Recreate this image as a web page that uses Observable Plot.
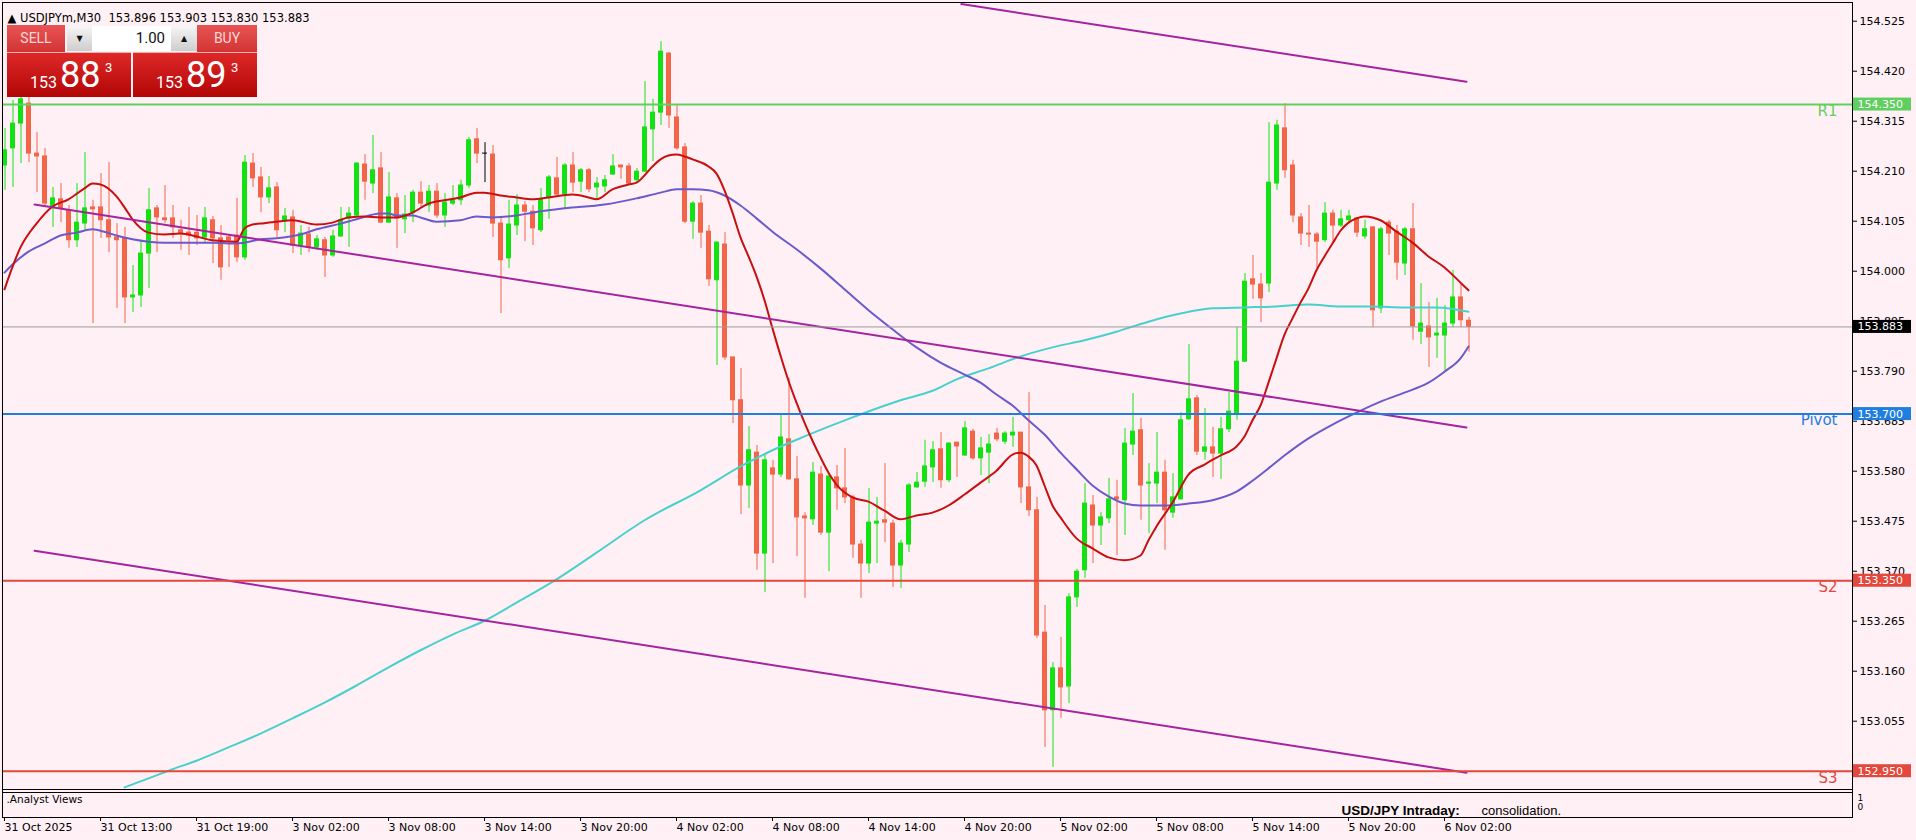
<!DOCTYPE html>
<html><head><meta charset="utf-8">
<script src="https://cdn.jsdelivr.net/npm/d3@7"></script>
<script src="https://cdn.jsdelivr.net/npm/@observablehq/plot@0.6"></script>
<style>
html,body{margin:0;padding:0;background:#fff0f5;}
#wrap{position:relative;width:1916px;height:840px;overflow:hidden;}
#chart svg{display:block;}
.tp div{position:absolute;box-sizing:border-box;}
.b{top:25px;height:27px;width:58px;background:linear-gradient(#e85454,#d23434);color:#ffd6d6;font:14px Roboto,"DejaVu Sans",sans-serif;text-align:center;line-height:27px;}
.sell{left:7px;}
.buy{left:197px;width:60px;}
.spin{top:26px;height:25px;width:25px;background:linear-gradient(#f6f6f6,#cdcdcd);font:8px "DejaVu Sans",sans-serif;text-align:center;line-height:25px;color:#111;}
.dn{left:67px;}
.up{left:171px;width:26px;}
.lot{left:92px;top:26px;width:79px;height:25px;background:#fff;text-align:right;padding-right:6px;font:15px Roboto,"Liberation Sans",sans-serif;line-height:25px;color:#111;}
.px{top:52px;height:45px;width:124px;background:linear-gradient(#de2828,#b20606);color:#fff;border-top:1px solid #f3b0b0;}
.sellpx{left:7px;}
.buypx{left:133px;}
.px span{position:absolute;line-height:1;font-family:Roboto,"Liberation Sans",sans-serif;white-space:nowrap;}
.px .s{left:23px;top:22px;font-size:16px;}
.px .g{left:53px;top:4px;font-size:36px;}
.px .u{left:98px;top:8px;font-size:13px;}
</style></head>
<body>
<div id="wrap">
<div id="chart"></div>
<div class="tp">
  <div class="b sell">SELL</div>
  <div class="spin dn">▼</div>
  <div class="lot">1.00</div>
  <div class="spin up">▲</div>
  <div class="b buy">BUY</div>
  <div class="px sellpx"><span class="s">153</span><span class="g">88</span><span class="u">3</span></div>
  <div class="px buypx"><span class="s">153</span><span class="g">89</span><span class="u">3</span></div>
</div>
</div>
<script>
// ---- candle data (USDJPYm, M30), bar 0 = 31 Oct 2025 07:00 ----
const opens = [154.222,154.258,154.310,154.352,154.247,154.241,154.134,154.151,154.128,154.065,154.100,154.134,154.134,154.107,154.071,154.069,153.945,153.949,154.037,154.132,154.111,154.111,154.086,154.081,154.081,154.071,154.107,154.069,154.071,154.075,154.029,154.226,154.197,154.155,154.176,154.104,154.113,154.054,154.077,154.050,154.065,154.033,154.073,154.111,154.117,154.224,154.184,154.216,154.102,154.153,154.109,154.123,154.165,154.138,154.167,154.117,154.142,154.149,154.180,154.277,154.247,154.245,154.100,154.027,154.096,154.138,154.125,154.086,154.155,154.195,154.161,154.222,154.188,154.212,154.176,154.178,154.203,154.222,154.220,154.191,154.209,154.298,154.333,154.457,154.323,154.260,154.104,154.142,154.083,153.981,154.056,153.819,153.729,153.550,153.619,153.407,153.586,153.573,153.647,153.563,153.485,153.479,153.573,153.451,153.567,153.544,153.525,153.426,153.386,153.470,153.477,153.470,153.382,153.426,153.546,153.558,153.588,153.626,153.561,153.640,153.613,153.663,153.607,153.619,153.659,153.642,153.655,153.661,153.546,153.498,153.241,153.078,153.166,153.128,153.315,153.372,153.508,153.466,153.481,153.525,153.519,153.636,153.666,153.554,153.554,153.577,153.493,153.521,153.689,153.733,153.621,153.630,153.617,153.668,153.701,153.810,153.983,153.972,153.974,154.184,154.300,154.222,154.113,154.079,154.077,154.065,154.121,154.096,154.107,154.111,154.073,154.092,153.922,154.102,154.083,154.016,154.088,153.873,153.884,153.865,153.865,153.890,153.945,153.896];
const highs = [154.300,154.359,154.373,154.369,154.291,154.258,154.176,154.184,154.138,154.184,154.249,154.149,154.205,154.228,154.100,154.092,154.012,154.065,154.174,154.138,154.180,154.138,154.107,154.134,154.117,154.134,154.115,154.096,154.075,154.153,154.243,154.247,154.218,154.199,154.186,154.132,154.128,154.096,154.092,154.075,154.071,154.086,154.134,154.134,154.228,154.245,154.285,154.249,154.207,154.163,154.159,154.170,154.188,154.180,154.184,154.163,154.180,154.191,154.281,154.300,154.270,154.264,154.113,154.149,154.161,154.146,154.138,154.174,154.201,154.239,154.226,154.249,154.216,154.216,154.197,154.201,154.245,154.222,154.226,154.216,154.398,154.361,154.482,154.459,154.348,154.268,154.146,154.159,154.096,154.062,154.081,153.819,153.796,153.674,153.634,153.613,153.603,153.697,153.775,153.611,153.493,153.598,153.590,153.575,153.592,153.628,153.529,153.435,153.544,153.525,153.596,153.477,153.435,153.554,153.577,153.645,153.642,153.661,153.640,153.640,153.684,153.668,153.651,153.657,153.670,153.663,153.693,153.661,153.745,153.525,153.298,153.178,153.231,153.323,153.374,153.554,153.529,153.493,153.565,153.561,153.670,153.743,153.691,153.596,153.661,153.603,153.575,153.703,153.846,153.739,153.712,153.672,153.693,153.745,153.882,153.995,154.033,153.995,154.312,154.317,154.352,154.233,154.121,154.138,154.081,154.144,154.128,154.128,154.128,154.113,154.107,154.094,154.092,154.107,154.096,154.092,154.142,153.974,153.934,153.943,153.928,154.002,153.974,153.903];
const lows = [154.170,154.176,154.226,154.228,154.165,154.134,154.092,154.102,154.048,154.050,154.086,153.890,154.069,154.039,153.922,153.890,153.913,153.924,153.964,154.039,154.100,154.069,154.044,154.033,154.054,154.060,154.016,153.981,154.008,154.018,154.023,154.176,154.123,154.142,154.071,154.081,154.037,154.033,154.039,154.044,153.987,154.029,154.071,154.050,154.113,154.149,154.163,154.100,154.100,154.048,154.079,154.102,154.134,154.123,154.111,154.092,154.138,154.138,154.174,154.226,154.186,154.071,153.911,154.006,154.075,154.062,154.054,154.081,154.109,154.159,154.132,154.165,154.165,154.165,154.151,154.165,154.201,154.193,154.180,154.184,154.207,154.230,154.306,154.300,154.254,154.100,154.067,154.048,153.968,153.802,153.813,153.680,153.489,153.502,153.372,153.325,153.386,153.567,153.561,153.401,153.313,153.466,153.445,153.369,153.498,153.512,153.397,153.313,153.365,153.386,153.430,153.336,153.334,153.409,153.544,153.546,153.556,153.544,153.556,153.567,153.611,153.603,153.571,153.554,153.642,153.636,153.630,153.512,153.485,153.229,153.000,152.958,153.061,153.092,153.294,153.355,153.386,153.424,153.470,153.403,153.445,153.613,153.477,153.449,153.512,153.414,153.481,153.519,153.687,153.613,153.603,153.567,153.563,153.661,153.687,153.808,153.941,153.892,153.955,154.170,154.195,154.102,154.054,154.050,154.006,154.060,154.060,154.092,154.100,154.071,154.067,153.882,153.911,154.033,153.981,153.991,153.855,153.846,153.798,153.817,153.787,153.882,153.882,153.830];
const closes = [154.254,154.310,154.361,154.247,154.241,154.142,154.153,154.132,154.065,154.102,154.132,154.130,154.107,154.071,154.065,153.945,153.949,154.037,154.128,154.113,154.107,154.092,154.079,154.075,154.069,154.111,154.069,154.008,154.065,154.029,154.228,154.195,154.155,154.174,154.086,154.115,154.054,154.079,154.050,154.067,154.033,154.073,154.107,154.121,154.226,154.188,154.212,154.102,154.155,154.111,154.119,154.165,154.142,154.167,154.117,154.144,154.149,154.180,154.275,154.247,154.247,154.100,154.023,154.098,154.138,154.125,154.090,154.151,154.197,154.161,154.222,154.186,154.212,154.172,154.184,154.191,154.220,154.218,154.184,154.209,154.302,154.333,154.461,154.327,154.258,154.104,154.142,154.081,153.983,154.060,153.819,153.729,153.550,153.624,153.407,153.603,153.573,153.651,153.563,153.483,153.481,153.577,153.451,153.569,153.544,153.525,153.426,153.386,153.472,153.474,153.472,153.382,153.428,153.550,153.556,153.590,153.624,153.561,153.638,153.632,153.670,153.607,153.628,153.636,153.647,153.659,153.661,153.546,153.498,153.235,153.078,153.166,153.126,153.315,153.369,153.512,153.466,153.483,153.521,153.521,153.638,153.663,153.550,153.556,153.577,153.498,153.525,153.687,153.731,153.621,153.630,153.617,153.668,153.705,153.810,153.978,153.972,153.943,154.186,154.306,154.212,154.117,154.079,154.077,154.062,154.121,154.096,154.109,154.115,154.081,154.088,153.918,154.088,154.079,154.018,154.088,153.884,153.890,153.861,153.869,153.890,153.945,153.897,153.883];

// ---- moving averages (bar index, price) ----
const redMaBars = [0,2,4,6,8,10,11,12,14,15,16,18,20,22,24,26,29,30,31,32,34,36,39,41,43,45,47,49,51,53,55,57,59,60,62,64,66,68,71,73,74,76,78,79,81,82,83,84,85,86,88,89,90,91,92,93,94,95,96,97,98,99,100,101,102,103,104,106,108,110,112,114,116,118,120,122,124,126,127,128,129,130,131,132,134,136,138,140,142,143,144,146,148,150,152,154,155,156,157,158,159,160,161,162,163,164,165,166,167,168,169,170,171,172,174,176,178,180,182,183];
const redMaVals = [153.962,154.050,154.100,154.136,154.151,154.174,154.184,154.182,154.157,154.134,154.109,154.081,154.077,154.079,154.073,154.065,154.062,154.090,154.098,154.100,154.104,154.107,154.098,154.102,154.113,154.115,154.113,154.113,154.123,154.142,154.149,154.155,154.165,154.165,154.159,154.155,154.151,154.155,154.161,154.155,154.151,154.172,154.182,154.186,154.220,154.235,154.243,154.245,154.241,154.235,154.220,154.205,154.170,154.123,154.071,154.031,153.989,153.939,153.880,153.823,153.770,153.724,153.682,153.644,153.609,153.577,153.552,153.525,153.516,153.497,153.479,153.487,153.493,153.508,153.531,153.556,153.581,153.615,153.619,153.611,153.592,153.550,153.508,153.483,153.439,153.418,153.399,153.393,153.403,153.435,153.464,153.514,153.573,153.594,153.613,153.632,153.653,153.687,153.718,153.766,153.817,153.867,153.901,153.934,153.964,154.002,154.031,154.058,154.085,154.102,154.111,154.115,154.113,154.107,154.083,154.060,154.031,154.008,153.976,153.960];
const slateMaBars = [0,1,3,5,7,9,11,12,14,16,18,20,23,26,28,30,32,34,37,39,42,44,47,48,49,51,52,54,57,59,61,64,66,70,75,79,82,84,86,88,90,92,94,96,99,102,105,108,111,114,117,120,122,124,126,128,130,132,134,136,138,140,142,145,148,151,154,156,158,160,163,166,169,172,175,178,180,182,183];
const slateMaVals = [153.997,154.014,154.041,154.058,154.075,154.081,154.088,154.085,154.075,154.067,154.062,154.060,154.060,154.060,154.058,154.060,154.067,154.069,154.077,154.088,154.100,154.109,154.121,154.121,154.117,154.117,154.113,154.104,154.107,154.115,154.113,154.117,154.123,154.132,154.140,154.153,154.165,154.172,154.172,154.170,154.159,154.138,154.111,154.083,154.046,154.006,153.962,153.918,153.878,153.840,153.808,153.783,153.766,153.741,153.718,153.687,153.657,153.619,153.584,153.550,153.527,153.512,153.508,153.508,153.512,153.519,153.537,153.560,153.586,153.613,153.649,153.678,153.703,153.726,153.745,153.766,153.789,153.817,153.842];
const tealMaBars = [15,18,21,24,28,32,36,40,44,48,52,56,60,64,69,74,80,87,92,96,100,106,112,116,119,123,127,131,135,139,143,147,151,155,159,163,167,171,175,179,183];
const tealMaVals = [152.916,152.935,152.954,152.972,153.000,153.029,153.061,153.094,153.130,153.168,153.204,153.237,153.266,153.304,153.353,153.409,153.477,153.540,153.590,153.624,153.653,153.693,153.729,153.749,153.773,153.796,153.821,153.840,153.855,153.873,153.894,153.911,153.922,153.924,153.926,153.930,153.926,153.926,153.924,153.924,153.915];

// ---- channel trend lines (bar index, price at the two ends) ----
const upperTrendBars = [119.6, 182.75];
const upperTrendPrices = [154.561, 154.398];
const middleTrendBars = [3.75, 182.75];
const middleTrendPrices = [154.140, 153.672];
const lowerTrendBars = [3.75, 182.75];
const lowerTrendPrices = [153.413, 152.947];

// ---- horizontal levels ----
const levelNames = ["R1", "Pivot", "S2", "S3"];
const levelValues = [154.350, 153.700, 153.350, 152.950];
const levelColors = ["#5fcf5f", "#1f7fe0", "#e4473c", "#e4473c"];
const bidPrice = 153.883;

// ---- axes ----
const yTicks = [154.525,154.420,154.315,154.210,154.105,154.000,153.895,153.790,153.685,153.580,153.475,153.370,153.265,153.160,153.055];
const tickBars = [0,12,24,36,48,60,72,84,96,108,120,132,144,156,168,180];
const tickLabels = ["31 Oct 2025","31 Oct 13:00","31 Oct 19:00","3 Nov 02:00","3 Nov 08:00","3 Nov 14:00","3 Nov 20:00","4 Nov 02:00","4 Nov 08:00","4 Nov 14:00","4 Nov 20:00","5 Nov 02:00","5 Nov 08:00","5 Nov 14:00","5 Nov 20:00","6 Nov 02:00"];
const headerText = "▲ USDJPYm,M30  153.896 153.903 153.830 153.883";

// ---- build ----
const BG = "#fff0f5", GREEN = "#12e212", RED = "#f26549";
const bars = opens.map((o, i) => ({i, o, h: highs[i], l: lows[i], c: closes[i]}));
const col = d => d.c > d.o ? GREEN : d.c < d.o ? RED : "#000000";
const pts = (xs, ys) => xs.map((x, k) => ({x, y: ys[k]}));
const levels = levelNames.map((name, k) => ({name, v: levelValues[k], color: levelColors[k]}));
const boxes = [...levels.map(d => ({v: d.v, color: d.color})), {v: bidPrice, color: "#000000"}];
const trends = [
  ...pts(upperTrendBars, upperTrendPrices).map(p => ({...p, z: "u"})),
  ...pts(middleTrendBars, middleTrendPrices).map(p => ({...p, z: "m"})),
  ...pts(lowerTrendBars, lowerTrendPrices).map(p => ({...p, z: "l"}))
];
const yDomain = [152.9116, 154.5643];

const chart = Plot.plot({
  width: 1916, height: 840,
  marginTop: 2, marginLeft: 2, marginRight: 64, marginBottom: 23,
  style: {background: BG, fontFamily: "'DejaVu Sans', sans-serif", fontSize: "11px", color: "#000"},
  x: {domain: [-0.25, 231]},
  y: {domain: yDomain, range: [789, 2]},
  marks: [
    // candles
    Plot.ruleX(bars, {x: "i", y1: "l", y2: "h", stroke: col, strokeWidth: 1, dx: 0.5}),
    Plot.rect(bars, {x1: "i", x2: "i", y1: "o", y2: "c", fill: col, insetLeft: -2, insetRight: -3, insetTop: -0.5, insetBottom: -0.5}),
    // moving averages
    Plot.line(pts(tealMaBars, tealMaVals), {x: "x", y: "y", stroke: "#48d1cc", strokeWidth: 2, curve: "monotone-x"}),
    Plot.line(pts(slateMaBars, slateMaVals), {x: "x", y: "y", stroke: "#6a5acd", strokeWidth: 2, curve: "monotone-x"}),
    Plot.line(pts(redMaBars, redMaVals), {x: "x", y: "y", stroke: "#c80f0f", strokeWidth: 2, curve: "monotone-x"}),
    // channel
    Plot.line(trends, {x: "x", y: "y", z: "z", stroke: "#a4249f", strokeWidth: 2}),
    // levels
    Plot.ruleY(levels, {y: "v", stroke: "color", strokeWidth: 2}),
    Plot.ruleY([bidPrice], {stroke: "#9a9a9a", strokeWidth: 1}),
    Plot.text(levels, {y: "v", text: "name", fill: "color", frameAnchor: "right", textAnchor: "end", dx: -15, dy: 6.5, fontSize: 15}),
    // borders
    Plot.frame({stroke: "#000"}),
    Plot.ruleY([yDomain[0]], {stroke: "#000"}),
    Plot.ruleY([yDomain[0]], {stroke: "#000", dy: 3}),
    // axes
    Plot.axisY({ticks: yTicks, anchor: "right", tickSize: 4, tickPadding: 3, tickFormat: d => d.toFixed(3), label: null, fontSize: 11}),
    Plot.axisX({ticks: tickBars, anchor: "bottom", tickSize: 4, tickPadding: 2, tickFormat: d => tickLabels[tickBars.indexOf(d)], textAnchor: "start", label: null, fontSize: 11}),
    // price boxes on the axis
    Plot.rect(boxes, {y1: "v", y2: "v", fill: "color", insetLeft: 1851, insetRight: -59, insetTop: -6.5, insetBottom: -6.5}),
    Plot.text(boxes, {y: "v", text: d => d.v.toFixed(3), frameAnchor: "right", textAnchor: "start", dx: 5, fill: "#ffffff", fontSize: 11}),
    // header and sub-window texts
    Plot.text([headerText], {frameAnchor: "top-left", dx: 5, dy: 11, textAnchor: "start", fontSize: 11.5}),
    Plot.text([".Analyst Views"], {frameAnchor: "bottom-left", dx: 4, dy: -15, textAnchor: "start", fontSize: 10.5}),
    Plot.text(["USD/JPY Intraday:"], {frameAnchor: "bottom-left", dx: 1339, dy: -3, textAnchor: "start", fontSize: 13.5, fontWeight: "bold", fontFamily: "'Liberation Sans', sans-serif", clip: true}),
    Plot.text(["consolidation."], {frameAnchor: "bottom-left", dx: 1479, dy: -3, textAnchor: "start", fontSize: 13, fontFamily: "'Liberation Sans', sans-serif", clip: true}),
    Plot.text(["1"], {frameAnchor: "bottom-right", dx: 5, dy: -17, textAnchor: "start", fontSize: 9}),
    Plot.text(["0"], {frameAnchor: "bottom-right", dx: 5, dy: -8, textAnchor: "start", fontSize: 9})
  ]
});
document.getElementById("chart").appendChild(chart);
</script>
</body></html>
